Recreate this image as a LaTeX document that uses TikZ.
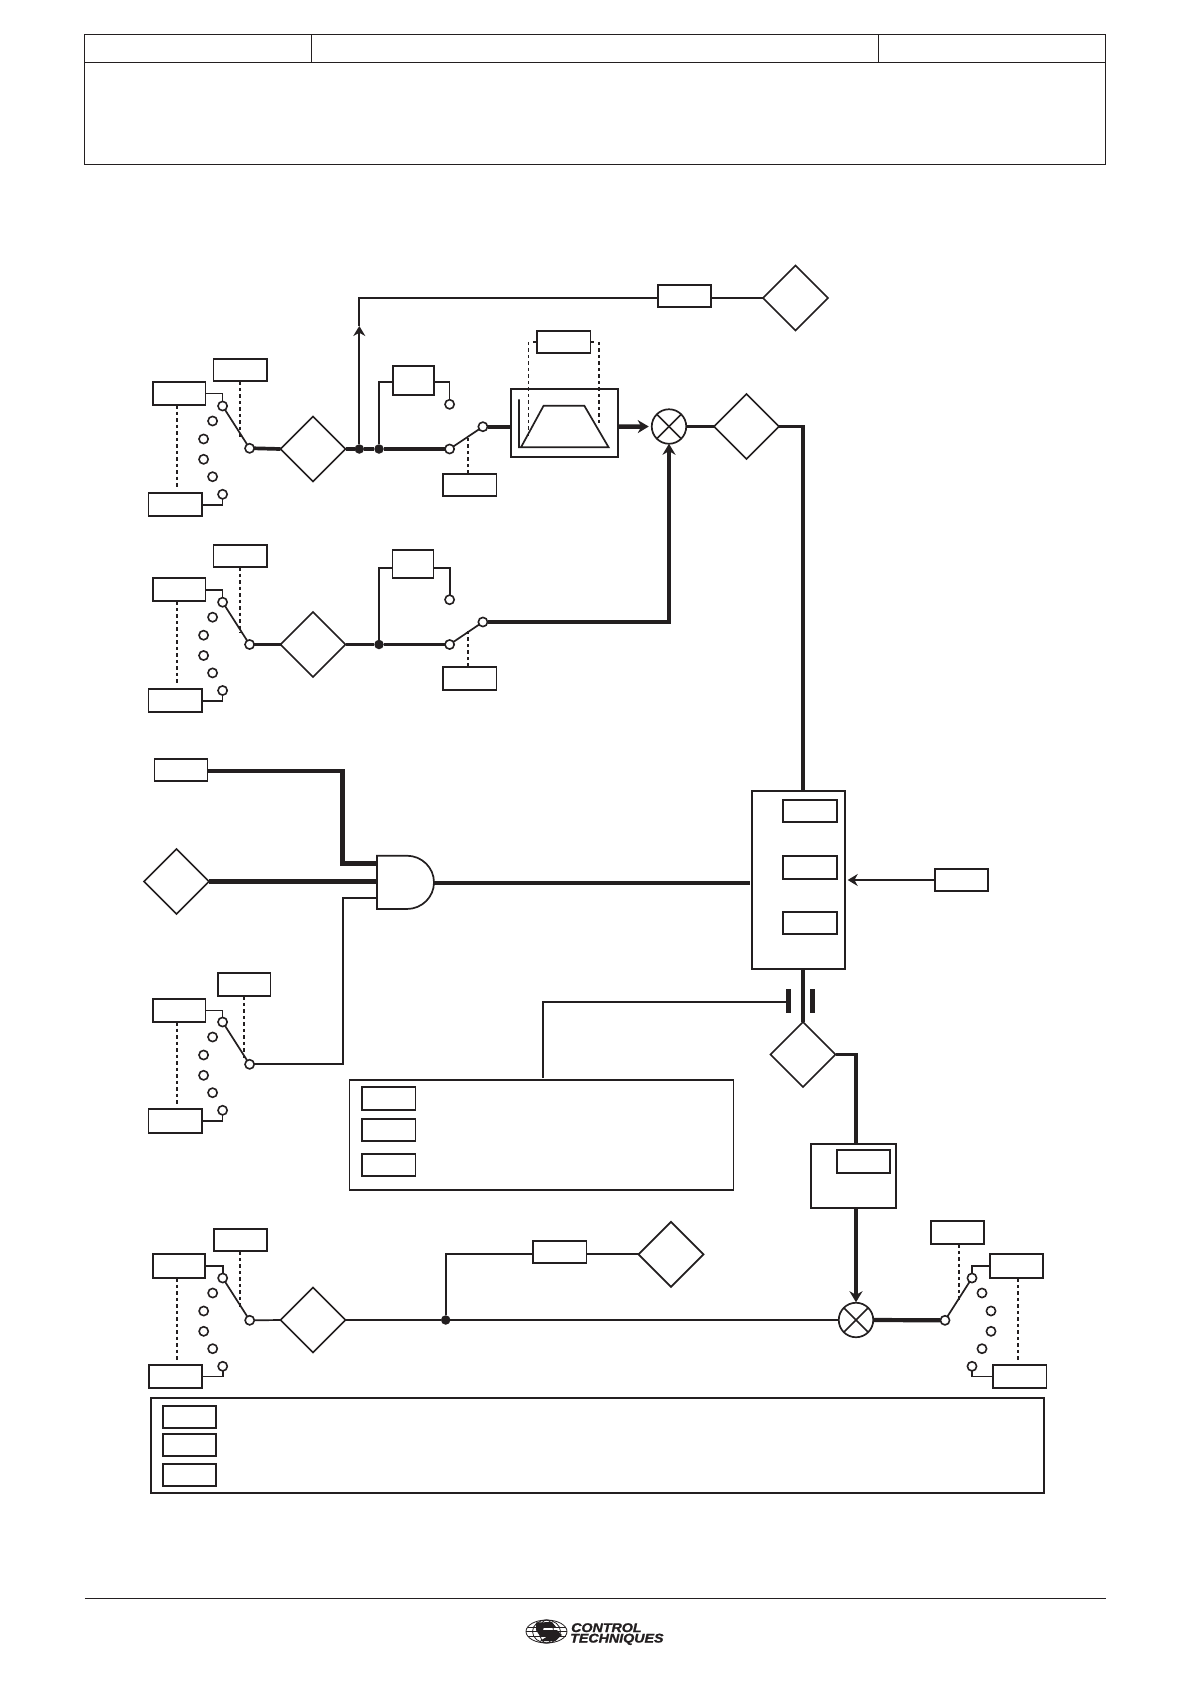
\documentclass[tikz,border=0pt]{standalone}
\usepackage{fontspec}
\setmainfont{Liberation Sans}
\newfontface\logofont[FakeStretch=1.13,FakeBold=1.5]{Liberation Sans Bold Italic}
\usetikzlibrary{shapes.geometric,arrows.meta,calc}
\definecolor{ink}{HTML}{231F20}
\tikzset{
  ln/.style={draw=ink,line width=1.7pt},
  hv/.style={draw=ink,line width=3.7pt},
  hvv/.style={draw=ink,line width=4.4pt},
  dsh/.style={draw=ink,line width=1.6pt,dash pattern=on 3.5pt off 3pt},
  pbx/.style={draw=ink,line width=1.7pt,fill=white,rectangle,inner sep=0pt,outer sep=0pt},
  hdr/.style={draw=ink,line width=1.1pt,fill=white,rectangle,inner sep=0pt,outer sep=0pt},
  dmd/.style={draw=ink,line width=1.7pt,fill=white,diamond,aspect=1,inner sep=0pt,outer sep=0pt,minimum width=65pt,minimum height=65pt},
  cct/.style={draw=ink,line width=1.6pt,fill=white,circle,inner sep=0pt,outer sep=0pt,minimum size=9.2pt},
  jnc/.style={fill=ink,circle,inner sep=0pt,outer sep=0pt,minimum size=9.5pt},
  sumj/.style={draw=ink,line width=1.7pt,fill=white,circle,inner sep=0pt,outer sep=0pt,minimum size=34.5pt},
  hd/.style={-{Stealth[length=11pt,width=13pt]}},
  hds/.style={-{Stealth[length=10pt,width=12pt]}}
}
% box from corners
\newcommand\pbox[6][pbx]{%
  \pgfmathsetmacro\pcx{(#3+#5)/2}\pgfmathsetmacro\pcy{(#4+#6)/2}%
  \pgfmathsetmacro\pw{#5-#3}\pgfmathsetmacro\ph{#6-#4}%
  \node[#1,minimum width=\pw pt,minimum height=\ph pt] (#2) at (\pcx,\pcy) {};}
% selector switch: name, x, y of output, sign (-1 contacts at left)
\newcommand\pswitch[4]{%
  \node[cct] (#10) at (#2,#3) {};
  \node[cct] (#11) at ({#2+#4*27},{#3-42.3}) {};
  \node[cct] (#12) at ({#2+#4*37},{#3-27.3}) {};
  \node[cct] (#13) at ({#2+#4*46},{#3-9.3}) {};
  \node[cct] (#14) at ({#2+#4*46},{#3+11}) {};
  \node[cct] (#15) at ({#2+#4*37},{#3+28.4}) {};
  \node[cct] (#16) at ({#2+#4*27},{#3+46}) {};
  \draw[ln] (#10) -- (#11);}
\begin{document}
\begin{tikzpicture}[x=1pt,y=-1pt]
\useasboundingbox (0,0) rectangle (1190,1684);
\fill[white] (0,0) rectangle (1190,1684);

% header table
\pbox[hdr]{hdA}{84.8}{34.4}{311.5}{62.3}
\pbox[hdr]{hdB}{311.5}{34.4}{878.5}{62.3}
\pbox[hdr]{hdC}{878.5}{34.4}{1105.6}{62.3}
\pbox[hdr]{hdD}{84.8}{62.3}{1105.6}{164.3}

% ---------- block 1
\pbox{A1}{153}{382}{205.4}{405}
\pbox{B1}{213.6}{358.7}{267}{381.3}
\pbox{C1}{148.6}{493}{202}{516.3}
\pswitch{Sa}{249.6}{448.3}{-1}
\coordinate (dB1) at (240,436.7);
\coordinate (dA1) at (176.8,488.3);
\draw[dsh] (B1.south -| dB1) -- (dB1);
\draw[dsh] (A1.south -| dA1) -- (dA1);
\draw[ln] (A1.east) -| (Sa1.north);
\draw[ln] (C1.east) -| (Sa6.south);
\node[dmd] (D1) at (313,449) {};
\draw[hv] (Sa0.east) -- (D1.west);
\node[jnc] (J1) at (359.3,449) {};
\node[jnc] (J2) at (379,449) {};
\node[cct] (Ta) at (449.6,449) {};
\node[cct] (Tb) at (482.9,426.7) {};
\node[cct] (Tc) at (449.6,404.3) {};
\draw[hv] (D1.east) -- (J1);
\draw[hv] (J1) -- (J2);
\draw[hv] (J2) -- (Ta.west);
\draw[ln] (Ta) -- (Tb);
\pbox{F1}{392.9}{366}{434.3}{395.3}
\coordinate (k1) at (379,382.3);
\draw[ln] (J2) |- (F1.west |- k1);
\draw[ln] (F1.east |- k1) -| (Tc.north);
\pbox{G1}{442.9}{473.7}{496.4}{496.3}
\coordinate (dT1) at (467.9,435);
\draw[dsh] (G1.north -| dT1) -- (dT1);
% upper tap
\pbox{U1}{658}{284.7}{711}{307.3}
\node[dmd] (D2) at (795.5,298) {};
\coordinate (aTip) at (359.3,326);
\coordinate (uY) at (359.3,298);
\draw[ln,hds] (J1) -- (aTip);
\draw[ln] (aTip) |- (U1.west |- uY);
\draw[ln] (U1.east |- uY) -- (D2.west);
% ramp
\pbox{R1}{510.7}{388.7}{617.9}{456.7}
\draw[ln] (518.9,399.3) -- (518.9,447.3) -- (608.6,447.3) -- (584.3,405.7) -- (543.6,405.7) -- (521,447.3);
\pbox{R2}{536.8}{330.7}{590.4}{353}
\coordinate (rL) at (528.6,341.8);
\coordinate (rR) at (599,341.8);
\draw[ln] (R2.west) -- ++(-3.8,0);
\draw[ln] (R2.east) -- ++(3.2,0);
\draw[draw=ink,line width=1.3pt,dash pattern=on 3.5pt off 3pt] (rL) -- (528.6,436.7);
\draw[dsh] (rR) -- (599,425);
\draw[hv] (Tb.east) -- (R1.west |- Tb);
\node[sumj] (S1) at (669,426.5) {};
\draw[ln] (S1.45) -- (S1.225);
\draw[ln] (S1.135) -- (S1.315);
\coordinate (rOut) at (617.9,426.7);
\draw[hvv,hd,shorten >=3pt] (rOut) -- (S1.west);
\node[dmd] (D3) at (746.5,426.5) {};
\draw[hv] (S1.east) -- (D3.west);

% ---------- block 2
\pbox{A2}{153}{578}{205.4}{601.3}
\pbox{B2}{213.6}{544.7}{267}{567}
\pbox{C2}{148.6}{689}{202}{712.3}
\pswitch{Sb}{249.6}{644.5}{-1}
\coordinate (dB2) at (240,633);
\coordinate (dA2) at (176.8,685);
\draw[dsh] (B2.south -| dB2) -- (dB2);
\draw[dsh] (A2.south -| dA2) -- (dA2);
\draw[ln] (A2.east) -| (Sb1.north);
\draw[ln] (C2.east) -| (Sb6.south);
\node[dmd] (D4) at (313,644.5) {};
\draw[hv] (Sb0.east) -- (D4.west);
\node[jnc] (J3) at (379,644.5) {};
\node[cct] (Va) at (449.6,644.5) {};
\node[cct] (Vb) at (482.9,622) {};
\node[cct] (Vc) at (449.6,599.7) {};
\draw[hv] (D4.east) -- (J3);
\draw[hv] (J3) -- (Va.west);
\draw[ln] (Va) -- (Vb);
\pbox{F2}{392.5}{549.7}{433.6}{578.3}
\coordinate (k2) at (379,568.3);
\draw[draw=ink,line width=2pt] (J3) |- (F2.west |- k2);
\draw[draw=ink,line width=2pt] (F2.east |- k2) -| (Vc.north);
\pbox{G2}{442.9}{666.7}{496.4}{690}
\coordinate (dT2) at (467.9,630);
\draw[dsh] (G2.north -| dT2) -- (dT2);
\draw[hvv,hd] (Vb.east) -| (S1.south);

% ---------- block 3 (gate)
\pbox{P3}{154.6}{758.7}{207.5}{781.3}
\node[dmd] (D5) at (176.5,881.5) {};
\draw[fill=white,draw=ink,line width=1.7pt] (377,855.7) -- (406.8,855.7) .. controls (421.8,855.7) and (434,867.6) .. (434,882.4) .. controls (434,897.1) and (421.8,909) .. (406.8,909) -- (377,909) -- cycle;
\coordinate (gI1) at (377,863.3);
\coordinate (gI2) at (377,881.5);
\coordinate (gI3) at (377,897.7);
\coordinate (gO) at (434,882.7);
\coordinate (gE) at (750,882.7);
\coordinate (bend1) at (342.5,771);
\draw[hvv,line join=miter] (P3.east |- bend1) -- (bend1) |- (gI1);
\draw[draw=ink,line width=4.8pt] (D5.east) -- (gI2);
\draw[hv] (gO) -- (gE);
\pbox{A3}{153}{998.7}{205.4}{1022}
\pbox{B3}{217.9}{972.7}{270.4}{996.3}
\pbox{C3}{148.6}{1109}{202}{1133.3}
\pswitch{Sc}{249.6}{1064.3}{-1}
\coordinate (dB3) at (243.9,1058);
\coordinate (dA3) at (176.8,1105);
\draw[dsh] (B3.south -| dB3) -- (dB3);
\draw[dsh] (A3.south -| dA3) -- (dA3);
\draw[ln] (A3.east) -| (Sc1.north);
\draw[ln] (C3.east) -| (Sc6.south);
\coordinate (bend3) at (343.2,1064.3);
\draw[ln] (Sc0.east) -- (bend3) |- (gI3);

% ---------- central column
\pbox{M}{751.7}{790.7}{845.3}{969}
\pbox{M1}{783.3}{799.7}{836.7}{822.3}
\pbox{M2}{783.3}{855.7}{836.7}{878.7}
\pbox{M3}{783.3}{911.7}{836.7}{934.3}
\coordinate (mT) at (803,790.7);
\coordinate (mB) at (803,969);
\draw[hv] (D3.east) -| (mT);
\pbox{X}{934.7}{868.7}{987.7}{891.3}
\coordinate (mR) at (847.7,880);
\draw[ln,hds] (X.west) -- (mR);
\node[dmd] (D6) at (803,1054.5) {};
\draw[hv] (mB) -- (D6.north);
\draw[draw=ink,line width=4.6pt] (788.6,989.3) -- (788.6,1012.7);
\draw[draw=ink,line width=4.6pt] (812.6,989.3) -- (812.6,1012.7);
\coordinate (plL) at (786.3,1001.7);
\coordinate (cTop) at (543.2,1078);
\draw[ln] (cTop) |- (plL);
\pbox{Q}{810.7}{1143.7}{896}{1208}
\pbox{Q1}{836.7}{1150.3}{890.3}{1173.3}
\coordinate (qT) at (856,1143.7);
\coordinate (qB) at (856,1208);
\draw[hv] (D6.east) -| (qT);
\pbox{L}{349.6}{1080}{733.4}{1190}
\pbox{L1}{361.8}{1086.7}{415.4}{1110.3}
\pbox{L2}{361.8}{1118.7}{415.4}{1141.3}
\pbox{L3}{361.8}{1153.7}{415.4}{1176.3}

% ---------- block 4
\pbox{A4}{152.7}{1254.3}{205.3}{1278}
\pbox{B4}{213.7}{1228.7}{267.3}{1251.3}
\pbox{C4}{148.7}{1364.7}{202.3}{1388.3}
\pswitch{Sd}{249.7}{1320.3}{-1}
\coordinate (dB4) at (240,1306.7);
\coordinate (dA4) at (177,1361.7);
\draw[dsh] (B4.south -| dB4) -- (dB4);
\draw[dsh] (A4.south -| dA4) -- (dA4);
\draw[ln] (A4.east) -| (Sd1.north);
\draw[ln] (C4.east) -| (Sd6.south);
\node[dmd] (D7) at (313,1320) {};
\draw[ln] (Sd0.east) -- (D7.west);
\node[jnc] (J4) at (445.7,1320) {};
\node[sumj] (S2) at (856,1320) {};
\draw[ln] (S2.45) -- (S2.225);
\draw[ln] (S2.135) -- (S2.315);
\draw[ln] (D7.east) -- (J4);
\draw[ln] (J4) -- (S2.west);
\pbox{W}{532.9}{1240.7}{586.5}{1263.3}
\node[dmd] (D8) at (671,1254.3) {};
\coordinate (wY) at (445.7,1254.3);
\draw[ln] (J4) |- (W.west |- wY);
\draw[ln] (W.east |- wY) -- (D8.west);
\draw[hv,hd,shorten >=0.5pt] (qB) -- (S2.north);
\pswitch{Se}{945}{1320.3}{1}
\draw[draw=ink,line width=4.2pt] (S2.east) -- (Se0.west);
\pbox{B5}{930.9}{1220.7}{983.7}{1244.3}
\pbox{A5}{989.9}{1254.3}{1042.7}{1278.3}
\pbox{C5}{992.9}{1364.7}{1046.5}{1388.3}
\coordinate (dB5) at (958.9,1300);
\coordinate (dA5) at (1018.2,1361.7);
\draw[draw=ink,line width=1.2pt,dash pattern=on 3.5pt off 3pt] (B5.south -| dB5) -- (dB5);
\draw[dsh] (A5.south -| dA5) -- (dA5);
\draw[ln] (A5.west) -| (Se1.north);
\draw[ln] (C5.west) -| (Se6.south);
% legend
\pbox{K}{151}{1397.7}{1044.2}{1493}
\pbox{K1}{163.3}{1405.7}{216.3}{1428.3}
\pbox{K2}{163.3}{1433.7}{216.3}{1456.3}
\pbox{K3}{163.3}{1463.7}{216.3}{1486.3}

% ---------- footer
\coordinate (fL) at (84.8,1598.3);
\coordinate (fR) at (1105.6,1598.3);
\draw[draw=ink,line width=1.1pt] (fL) -- (fR);
\begin{scope}[draw=ink,line width=0.8pt]
  \draw (546.5,1631.5) ellipse [x radius=20.5,y radius=11.5];
  \draw (546.5,1631.5) ellipse [x radius=14,y radius=11.5];
  \draw (546.5,1631.5) ellipse [x radius=7,y radius=11.5];
  \draw (527.5,1627) -- (565.5,1627);
  \draw (526,1631.5) -- (567,1631.5);
  \draw (527.5,1636) -- (565.5,1636);
  \fill[ink] (536,1622.5) -- (552,1622) -- (556,1627) -- (544,1627) -- (543,1630) -- (557,1630) -- (562,1635) -- (555,1641) -- (540,1641) -- (548,1636) -- (540,1636) -- (536,1630) -- cycle;
\end{scope}
\node[anchor=base west,inner sep=0pt,font=\logofont\fontsize{12.6pt}{12.6pt}\selectfont,text=ink] (logoA) at (571,1632) {CONTROL};
\node[anchor=base west,inner sep=0pt,font=\logofont\fontsize{12.6pt}{12.6pt}\selectfont,text=ink] (logoB) at (570,1642.5) {TECHNIQUES};
\end{tikzpicture}
\end{document}
